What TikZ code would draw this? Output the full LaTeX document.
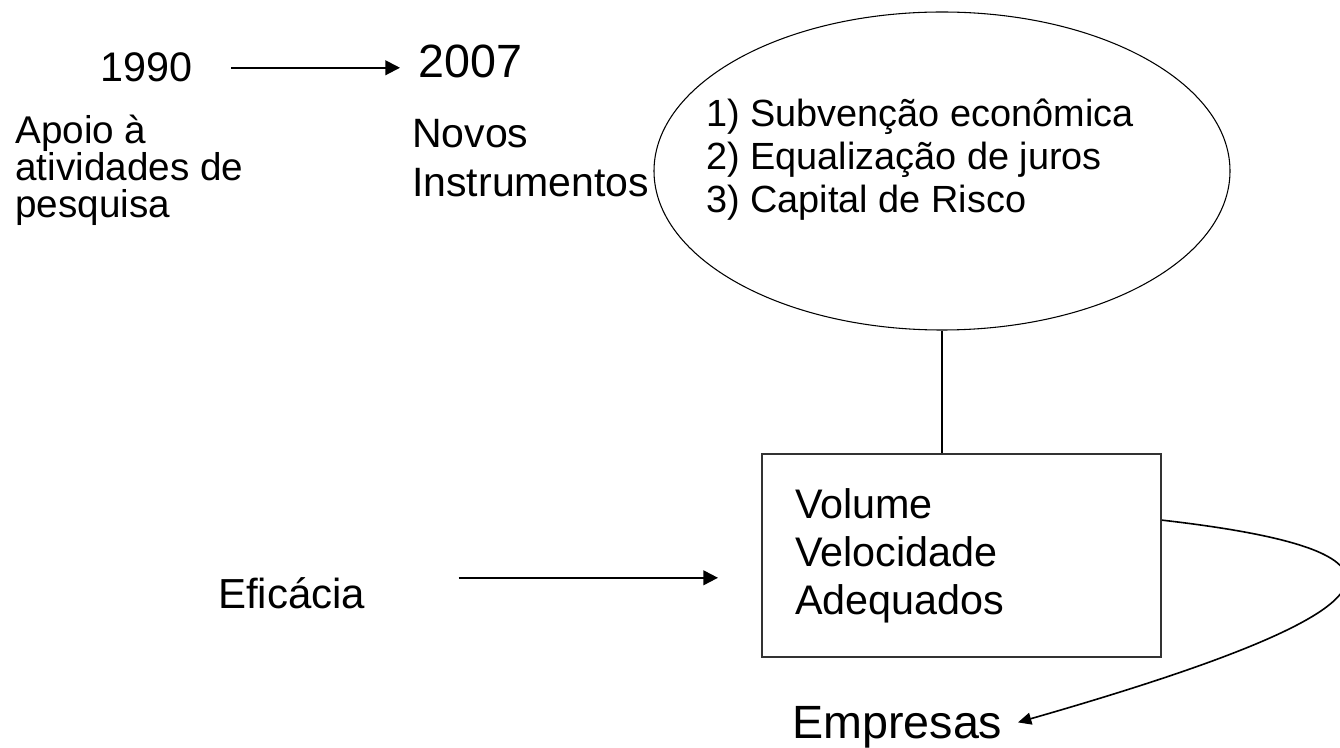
\documentclass[tikz,border=0pt]{standalone}
\usepackage{fontspec}
\setmainfont{Liberation Sans}
\usetikzlibrary{arrows.meta,shapes.geometric}

\tikzset{
  seta/.style={line width=1.5pt,-{Triangle[length=11pt,width=11pt]}},
  curva/.style={line width=1.2pt,-{Triangle[length=10pt,width=9pt]}},
  rotulo/.style={inner sep=0pt,align=left},
}

\begin{document}
\begin{tikzpicture}[x=0.75pt,y=0.75pt,yscale=-1,xscale=1]
\useasboundingbox (0,0) rectangle (1340,748);

% Text Node
\node (n1990) [rotulo,anchor=base west,font=\fontsize{31}{36}\selectfont] at (100,82) {1990};
% Text Node
\node (n2007) [rotulo,anchor=base west,font=\fontsize{35}{40}\selectfont] at (418,78) {2007};
% Text Node
\node (apoio) [rotulo,anchor=west,font=\fontsize{29}{27.6}\selectfont] at (15,170) {Apoio à\\atividades de\\pesquisa};
% Text Node
\node (novos) [rotulo,anchor=west,font=\fontsize{30.75}{36.75}\selectfont] at (412,158) {Novos\\Instrumentos};

%Shape: Ellipse
\node (instr) [draw,ellipse,line width=0.8pt,inner sep=0pt,minimum width=432pt,minimum height=238.5pt] at (942,171) {};
% Text Node
\node (lista) [rotulo,anchor=west,font=\fontsize{28.4}{32.25}\selectfont] at (706,160) {1) Subvenção econômica\\2) Equalização de juros\\3) Capital de Risco};

%Shape: Rectangle
\node (caixa) [draw=black!80,line width=1.5pt,inner xsep=24.75pt,inner ysep=0pt,text width=249.75pt,minimum height=152.25pt,align=left,font=\fontsize{31}{36}\selectfont] at (961.5,555.5) {Volume\\Velocidade\\Adequados};

% Text Node
\node (eficacia) [rotulo,anchor=base west,font=\fontsize{31.5}{36}\selectfont] at (218,609) {Eficácia};
% Text Node
\node (empresas) [rotulo,anchor=base west,font=\fontsize{35}{42}\selectfont] at (792,738) {Empresas};

%Straight Lines
\draw[seta,shorten <=29pt,shorten >=13.5pt] (n1990.east) -- (n1990.east -| n2007.west);
%Straight Lines
\draw[line width=0.9pt] (instr.south) -- (instr.south |- caixa.north);
%Straight Lines
\draw[seta,shorten <=69.75pt,shorten >=32.25pt] (eficacia.north east) -- (caixa.west |- eficacia.north east);
%Curve Lines
\draw[curva,shorten >=12pt] (caixa.10) .. controls (1440,552) and (1410,610) .. (empresas.east);

\end{tikzpicture}
\end{document}
